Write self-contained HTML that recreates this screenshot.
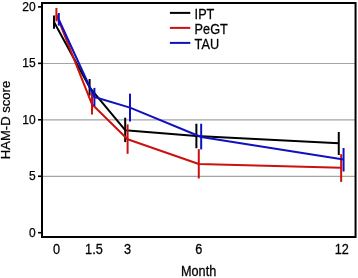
<!DOCTYPE html>
<html><head><meta charset="utf-8"><style>
html,body{margin:0;padding:0;background:#fff;}
body{width:358px;height:278px;overflow:hidden;}
svg{display:block;will-change:transform;}
.t{font-family:"Liberation Sans",sans-serif;font-size:12.7px;fill:#000;stroke:#000;stroke-width:0.25px;}
</style></head><body>
<svg width="358" height="278" viewBox="0 0 358 278">
<line x1="43" y1="176.40" x2="355" y2="176.40" stroke="#a4a4a4" stroke-width="1.15"/>
<line x1="43" y1="119.90" x2="355" y2="119.90" stroke="#a4a4a4" stroke-width="1.15"/>
<line x1="43" y1="63.45" x2="355" y2="63.45" stroke="#a4a4a4" stroke-width="1.15"/>
<polyline points="54.00,22.10 89.59,87.30 125.19,130.20 196.38,136.00 338.76,143.20" fill="none" stroke="#000000" stroke-width="2.0" stroke-linejoin="round"/>
<line x1="54.00" y1="15.40" x2="54.00" y2="28.80" stroke="#000000" stroke-width="2.0"/>
<line x1="89.59" y1="79.00" x2="89.59" y2="95.60" stroke="#000000" stroke-width="2.0"/>
<line x1="125.19" y1="117.70" x2="125.19" y2="142.10" stroke="#000000" stroke-width="2.0"/>
<line x1="196.38" y1="123.70" x2="196.38" y2="148.20" stroke="#000000" stroke-width="2.0"/>
<line x1="338.76" y1="132.00" x2="338.76" y2="155.00" stroke="#000000" stroke-width="2.0"/>
<polyline points="56.40,14.70 92.00,104.30 127.59,139.20 198.78,164.00 341.16,167.80" fill="none" stroke="#cc1010" stroke-width="2.0" stroke-linejoin="round"/>
<line x1="56.40" y1="8.00" x2="56.40" y2="21.40" stroke="#cc1010" stroke-width="2.0"/>
<line x1="92.00" y1="93.00" x2="92.00" y2="114.60" stroke="#cc1010" stroke-width="2.0"/>
<line x1="127.59" y1="124.40" x2="127.59" y2="153.80" stroke="#cc1010" stroke-width="2.0"/>
<line x1="198.78" y1="149.20" x2="198.78" y2="178.50" stroke="#cc1010" stroke-width="2.0"/>
<line x1="341.16" y1="154.20" x2="341.16" y2="181.90" stroke="#cc1010" stroke-width="2.0"/>
<polyline points="58.80,19.50 94.40,97.00 129.99,107.60 201.18,137.00 343.56,159.50" fill="none" stroke="#1010c0" stroke-width="2.0" stroke-linejoin="round"/>
<line x1="58.80" y1="13.00" x2="58.80" y2="25.60" stroke="#1010c0" stroke-width="2.0"/>
<line x1="94.40" y1="87.90" x2="94.40" y2="106.00" stroke="#1010c0" stroke-width="2.0"/>
<line x1="129.99" y1="93.70" x2="129.99" y2="121.50" stroke="#1010c0" stroke-width="2.0"/>
<line x1="201.18" y1="123.70" x2="201.18" y2="149.40" stroke="#1010c0" stroke-width="2.0"/>
<line x1="343.56" y1="148.00" x2="343.56" y2="171.50" stroke="#1010c0" stroke-width="2.0"/>
<rect x="42" y="3" width="313.55" height="234" fill="none" stroke="#000" stroke-width="2"/>
<line x1="38" y1="232.70" x2="41.5" y2="232.70" stroke="#000" stroke-width="1.6"/>
<text transform="translate(35.60,236.60) scale(1,1)" text-anchor="end" class="t" style="font-size:12px">0</text>
<line x1="38" y1="176.25" x2="41.5" y2="176.25" stroke="#000" stroke-width="1.6"/>
<text transform="translate(35.60,180.15) scale(1,1)" text-anchor="end" class="t" style="font-size:12px">5</text>
<line x1="38" y1="119.80" x2="41.5" y2="119.80" stroke="#000" stroke-width="1.6"/>
<text transform="translate(35.60,123.70) scale(1,1)" text-anchor="end" class="t" style="font-size:12px">10</text>
<line x1="38" y1="63.35" x2="41.5" y2="63.35" stroke="#000" stroke-width="1.6"/>
<text transform="translate(35.60,67.25) scale(1,1)" text-anchor="end" class="t" style="font-size:12px">15</text>
<line x1="38" y1="6.90" x2="41.5" y2="6.90" stroke="#000" stroke-width="1.6"/>
<text transform="translate(35.60,10.80) scale(1,1)" text-anchor="end" class="t" style="font-size:12px">20</text>
<text transform="translate(56.40,254.10) scale(1,1.1)" text-anchor="middle" class="t" style="font-size:12.7px">0</text>
<text transform="translate(93.90,254.10) scale(1,1.1)" text-anchor="middle" class="t" style="font-size:12.7px">1.5</text>
<text transform="translate(127.40,254.10) scale(1,1.1)" text-anchor="middle" class="t" style="font-size:12.7px">3</text>
<text transform="translate(198.70,254.10) scale(1,1.1)" text-anchor="middle" class="t" style="font-size:12.7px">6</text>
<text transform="translate(341.70,254.10) scale(1,1.1)" text-anchor="middle" class="t" style="font-size:12.7px">12</text>
<text transform="translate(198.60,276.40) scale(1,1.1)" text-anchor="middle" class="t" style="font-size:12.7px">Month</text>
<text transform="translate(10.20,120.00) rotate(-90) scale(1,1)" text-anchor="middle" class="t" style="font-size:13.05px">HAM-D score</text>
<line x1="169.9" y1="12.90" x2="190.3" y2="12.90" stroke="#000000" stroke-width="2"/>
<text transform="translate(194.60,19.10) scale(1,1.1)" text-anchor="start" class="t" style="font-size:12.7px">IPT</text>
<line x1="169.9" y1="27.90" x2="190.3" y2="27.90" stroke="#cc1010" stroke-width="2"/>
<text transform="translate(194.60,34.10) scale(1,1.1)" text-anchor="start" class="t" style="font-size:12.7px">PeGT</text>
<line x1="169.9" y1="42.90" x2="190.3" y2="42.90" stroke="#1010c0" stroke-width="2"/>
<text transform="translate(194.60,49.10) scale(1,1.1)" text-anchor="start" class="t" style="font-size:12.7px">TAU</text>
</svg>
</body></html>
